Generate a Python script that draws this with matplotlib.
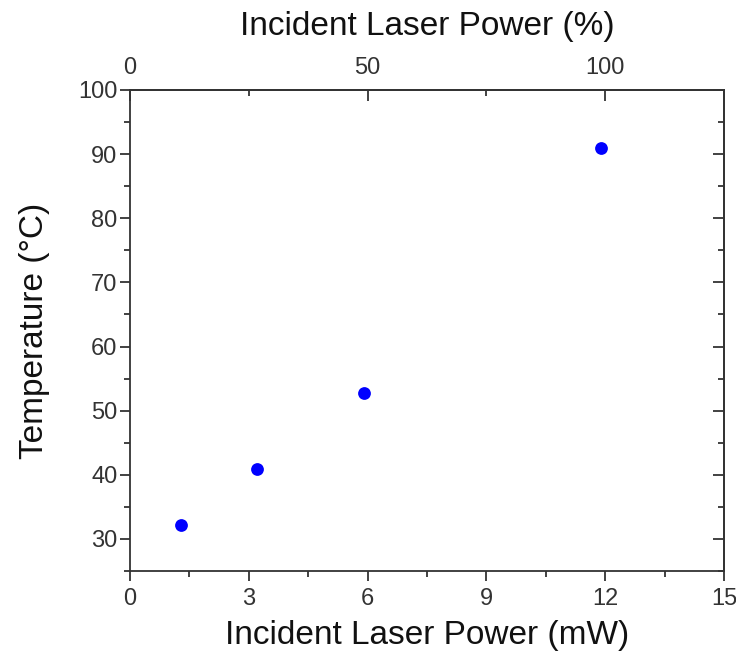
import matplotlib
matplotlib.use("Agg")
import matplotlib.pyplot as plt
from matplotlib.ticker import MultipleLocator, FixedLocator

plt.rcParams['font.family'] = ['Liberation Sans', 'DejaVu Sans']

power_mw = [1.3, 3.2, 5.9, 11.9]
temperature_c = [32.2, 40.9, 52.8, 91.0]
full_power_mw = 12.0  # 100 % incident power
top_ticks_pct = [0, 50, 100]
top_minor_pct = [25, 75]

fig = plt.figure(figsize=(7.36, 6.54), dpi=100)
ax = fig.add_axes([130/736, 1-571/654, (724-130)/736, (571-90)/654])

ax.plot(power_mw, temperature_c, 'o', color='#0000ff', markersize=9.2, markeredgewidth=0)

ax.set_xlim(0, 15)
ax.set_ylim(25, 100)
ax.xaxis.set_major_locator(MultipleLocator(3))
ax.xaxis.set_minor_locator(MultipleLocator(1.5))
ax.yaxis.set_major_locator(MultipleLocator(10))
ax.yaxis.set_minor_locator(MultipleLocator(5))

spine_c = '#333333'
lab_c = '#333333'
for s in ax.spines.values():
    s.set_linewidth(1.3)
    s.set_color(spine_c)

ax.tick_params(axis='both', which='both', direction='out', colors=spine_c,
               labelcolor=lab_c, labelsize=17, width=1.3)
ax.tick_params(which='major', length=7)
ax.tick_params(which='minor', length=4)
ax.tick_params(axis='y', which='both', right=False, pad=2)
ax.tick_params(axis='x', which='both', pad=5)

# right-side ticks point inward
secy = ax.secondary_yaxis('right')
secy.yaxis.set_major_locator(MultipleLocator(10))
secy.yaxis.set_minor_locator(MultipleLocator(5))
secy.tick_params(which='both', direction='in', colors=spine_c, width=1.3, labelright=False)
secy.tick_params(which='major', length=8)
secy.tick_params(which='minor', length=4.5)
secy.spines['right'].set_linewidth(1.3)
secy.spines['right'].set_color(spine_c)

secx = ax.secondary_xaxis('top', functions=(lambda x: x / full_power_mw * 100,
                                             lambda p: p * full_power_mw / 100))
secx.xaxis.set_major_locator(FixedLocator(top_ticks_pct))
secx.xaxis.set_minor_locator(FixedLocator(top_minor_pct))
secx.tick_params(which='both', direction='in', colors=spine_c, labelcolor=lab_c,
                 labelsize=17, width=1.3, pad=8)
secx.tick_params(which='major', length=8)
secx.tick_params(which='minor', length=4.5)
secx.spines['top'].set_linewidth(1.3)
secx.spines['top'].set_color(spine_c)
secx.set_xlabel('Incident Laser Power (%)', fontsize=24, color='#111111', labelpad=16)

ax.set_xlabel('Incident Laser Power (mW)', fontsize=24, color='#111111', labelpad=7.5)
ax.set_ylabel('Temperature (°C)', fontsize=24, color='#111111', labelpad=20)

fig.savefig('out.png', dpi=100)
